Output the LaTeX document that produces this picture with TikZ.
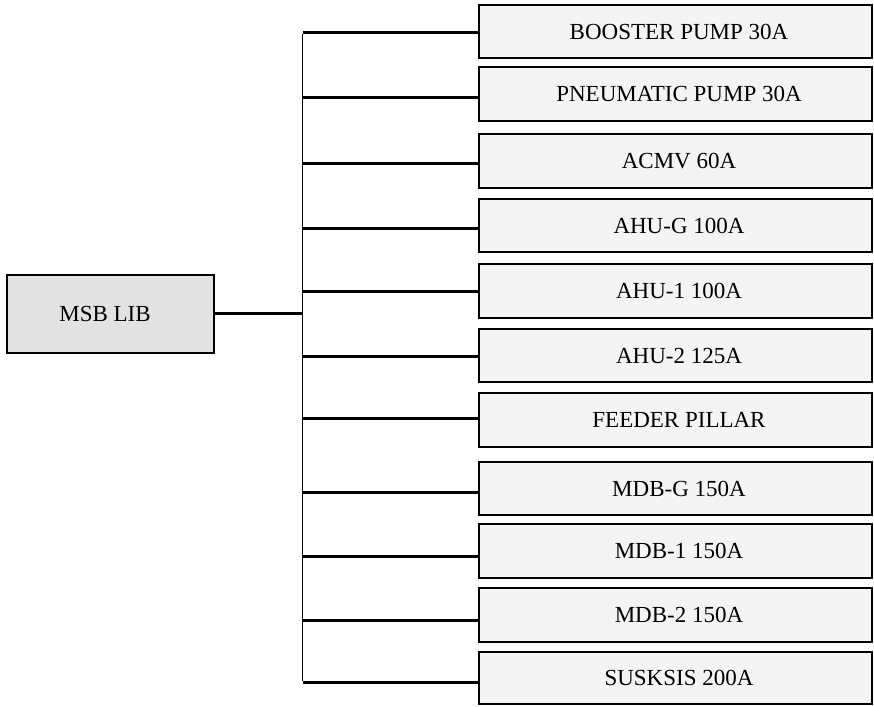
\documentclass[tikz,border=0pt]{standalone}
\usepackage{fontspec}
\setmainfont{Liberation Serif}
\begin{document}
\begin{tikzpicture}[x=1pt,y=-1pt,
  load/.style={draw=black,line width=2pt,fill=gray!9,minimum width=393pt,inner sep=0pt,font=\fontsize{23}{26}\selectfont},
  mainbox/.style={draw=black,line width=2pt,fill=gray!23,minimum width=207pt,minimum height=78pt,inner sep=0pt,font=\fontsize{23}{26}\selectfont},
  branch/.style={line width=3pt,line cap=butt},
  busline/.style={line width=1.8pt}]
\useasboundingbox (0,0) rectangle (874,706);
\node[mainbox] (msb) at (110,313.5) {\hspace*{-10pt}MSB LIB};
\foreach \t/\b/\ly/\n/\lab in {
  5/58/33/b1/BOOSTER PUMP 30A,
  67/121/98/b2/PNEUMATIC PUMP 30A,
  134/188/163/b3/ACMV 60A,
  199/252/228/b4/AHU-G 100A,
  264/318/291/b5/AHU-1 100A,
  329/382/356/b6/AHU-2 125A,
  393/447/418/b7/FEEDER PILLAR,
  462/515/492/b8/MDB-G 150A,
  524/578/556/b9/MDB-1 150A,
  588/642/620/b10/MDB-2 150A,
  652/704/682/b11/SUSKSIS 200A}{
  \pgfmathsetmacro{\h}{\b-\t}
  \pgfmathsetmacro{\c}{(\b+\t)/2}
  \node[load,minimum height=\h pt] (\n) at (675,\c) {\hspace*{8pt}\lab};
  \coordinate (j\n) at (302.5,\ly);
  \draw[branch] (j\n) -- (\n.west |- j\n);
}
\coordinate (jm) at (302.5,313.5);
\draw[branch] (msb.east) -- (jm);
\draw[busline] ([yshift=-1.5pt]jb1) -- ([yshift=1.5pt]jb11);
\end{tikzpicture}
\end{document}
